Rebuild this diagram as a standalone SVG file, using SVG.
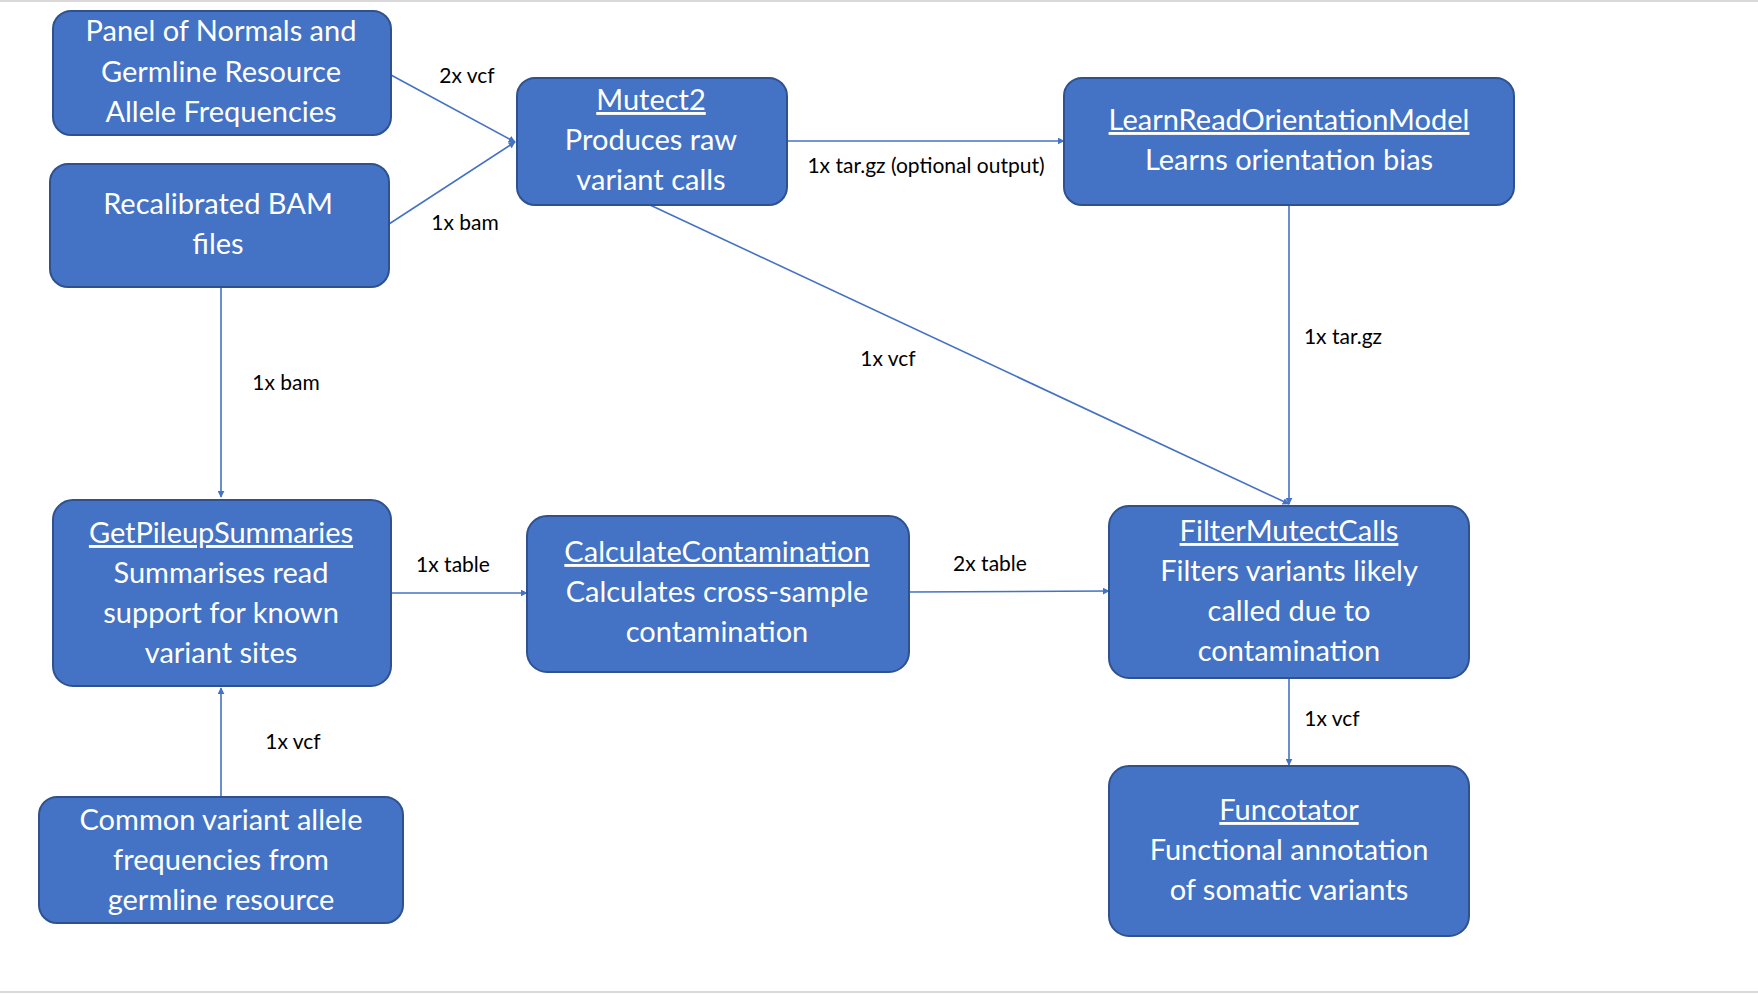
<svg xmlns="http://www.w3.org/2000/svg" width="1758" height="994" viewBox="0 0 1758 994">
<defs>
<style>
.box{fill:#4472C4;stroke:#2F528F;stroke-width:2}
.t{font-family:Lato,"Liberation Sans",sans-serif;font-size:29px;fill:#fff;text-anchor:middle}
.u{text-decoration:underline}
.l{font-family:Lato,"Liberation Sans",sans-serif;font-size:21px;fill:#000;text-anchor:middle}
.c{stroke:#4472C4;stroke-width:1.6;fill:none;marker-end:url(#a)}
</style>
<marker id="a" viewBox="0 0 10 10" refX="9" refY="5" markerWidth="7" markerHeight="7" orient="auto" markerUnits="userSpaceOnUse"><path d="M0,0L10,5L0,10z" fill="#4472C4"/></marker>
</defs>
<rect width="1758" height="994" fill="#fff"/>
<line x1="0" y1="1" x2="1758" y2="1" stroke="#d9d9d9" stroke-width="2"/>
<line x1="0" y1="992" x2="1758" y2="992" stroke="#d9d9d9" stroke-width="2"/>
<g id="connectors">
<line class="c" x1="391" y1="75" x2="515" y2="142"/>
<line class="c" x1="389" y1="224" x2="515" y2="142"/>
<line class="c" x1="787" y1="141" x2="1064" y2="141"/>
<line class="c" x1="650" y1="205" x2="1289" y2="504"/>
<line class="c" x1="1289" y1="205" x2="1289" y2="504"/>
<line class="c" x1="221" y1="287" x2="221" y2="497"/>
<line class="c" x1="221" y1="797" x2="221" y2="688"/>
<line class="c" x1="391" y1="593" x2="527" y2="593"/>
<line class="c" x1="909" y1="592" x2="1109" y2="591"/>
<line class="c" x1="1289" y1="678" x2="1289" y2="765"/>
<text class="l" x="467" y="83">2x vcf</text>
<text class="l" x="465" y="230">1x bam</text>
<text class="l" x="926" y="173">1x tar.gz (optional output)</text>
<text class="l" x="888" y="366">1x vcf</text>
<text class="l" x="1343" y="344">1x tar.gz</text>
<text class="l" x="286" y="390">1x bam</text>
<text class="l" x="453" y="572">1x table</text>
<text class="l" x="990" y="571">2x table</text>
<text class="l" x="293" y="749">1x vcf</text>
<text class="l" x="1332" y="726">1x vcf</text>
</g>
<g id="panel"><rect class="box" x="53" y="11" width="338" height="124" rx="18"/>
<text class="t" x="221" y="41">Panel of Normals and</text><text class="t" x="221" y="82">Germline Resource</text><text class="t" x="221" y="122">Allele Frequencies</text></g>
<g id="bam"><rect class="box" x="50" y="164" width="339" height="123" rx="18"/>
<text class="t" x="218" y="214">Recalibrated BAM</text><text class="t" x="218" y="254">files</text></g>
<g id="mutect2"><rect class="box" x="517" y="78" width="270" height="127" rx="18"/>
<text class="t u" x="651" y="110">Mutect2</text><text class="t" x="651" y="150">Produces raw</text><text class="t" x="651" y="190">variant calls</text></g>
<g id="learn"><rect class="box" x="1064" y="78" width="450" height="127" rx="18"/>
<text class="t u" x="1289" y="130">LearnReadOrientationModel</text><text class="t" x="1289" y="170">Learns orientation bias</text></g>
<g id="pileup"><rect class="box" x="53" y="500" width="338" height="186" rx="20"/>
<text class="t u" x="221" y="543">GetPileupSummaries</text><text class="t" x="221" y="583">Summarises read</text><text class="t" x="221" y="623">support for known</text><text class="t" x="221" y="663">variant sites</text></g>
<g id="contam"><rect class="box" x="527" y="516" width="382" height="156" rx="20"/>
<text class="t u" x="717" y="562">CalculateContamination</text><text class="t" x="717" y="602">Calculates cross-sample</text><text class="t" x="717" y="642">contamination</text></g>
<g id="filter"><rect class="box" x="1109" y="506" width="360" height="172" rx="20"/>
<text class="t u" x="1289" y="541">FilterMutectCalls</text><text class="t" x="1289" y="581">Filters variants likely</text><text class="t" x="1289" y="621">called due to</text><text class="t" x="1289" y="661">contamination</text></g>
<g id="funcotator"><rect class="box" x="1109" y="766" width="360" height="170" rx="20"/>
<text class="t u" x="1289" y="820">Funcotator</text><text class="t" x="1289" y="860">Functional annotation</text><text class="t" x="1289" y="900">of somatic variants</text></g>
<g id="common"><rect class="box" x="39" y="797" width="364" height="126" rx="18"/>
<text class="t" x="221" y="830">Common variant allele</text><text class="t" x="221" y="870">frequencies from</text><text class="t" x="221" y="910">germline resource</text></g>
</svg>
